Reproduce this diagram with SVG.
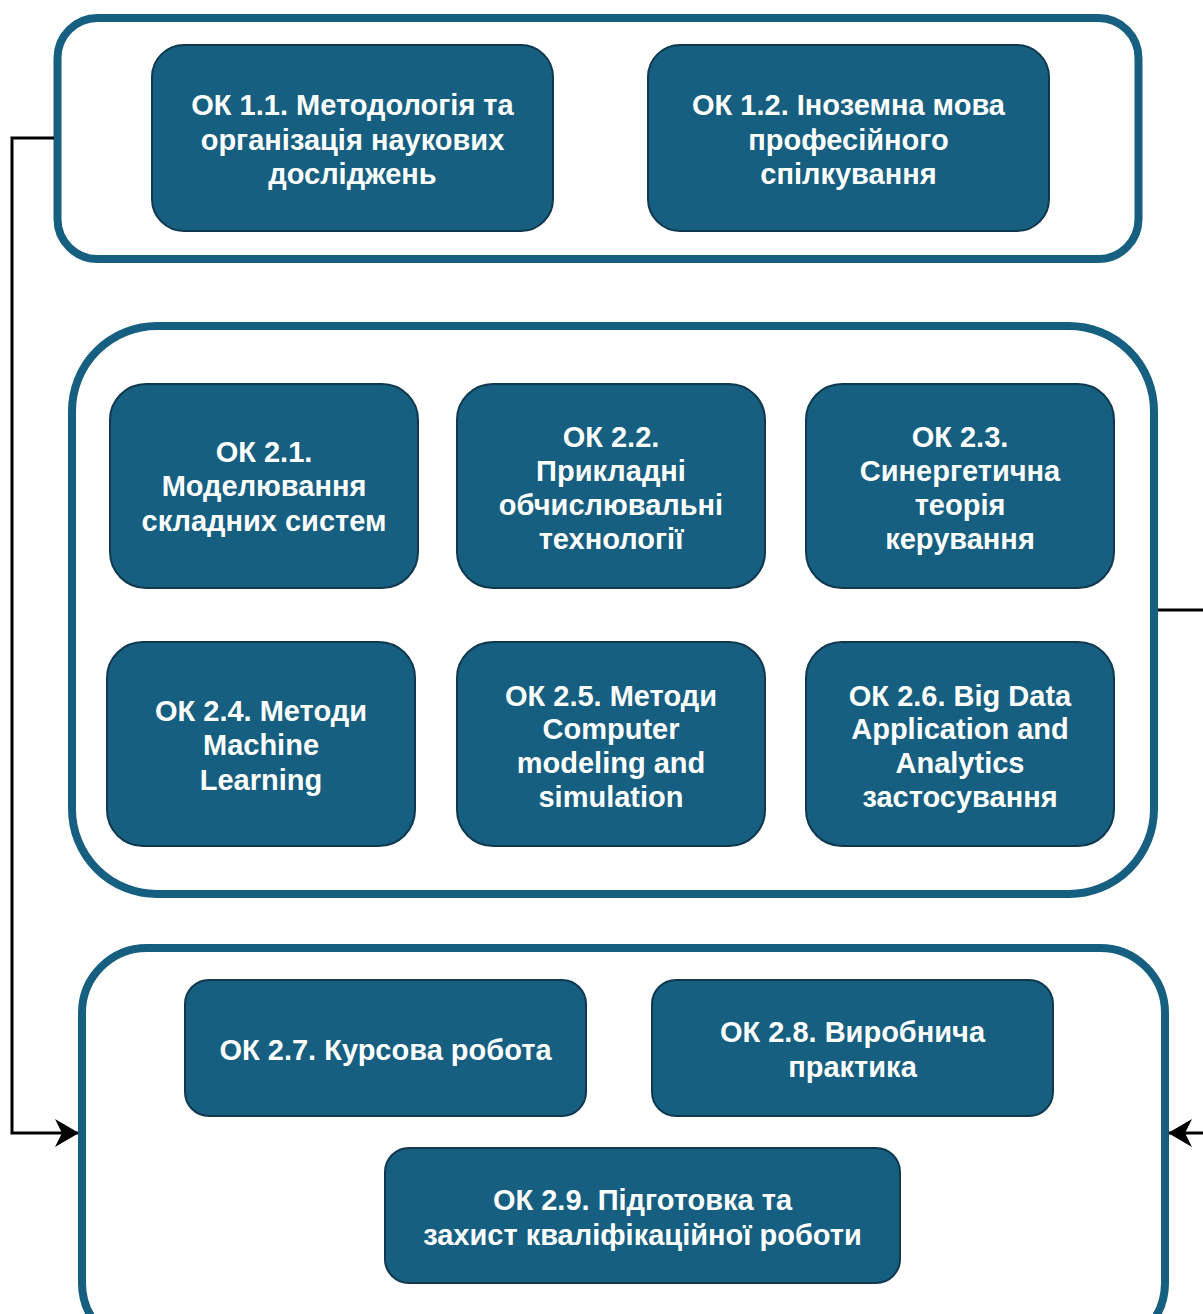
<svg xmlns="http://www.w3.org/2000/svg" width="1203" height="1314" viewBox="0 0 1203 1314">
<style>
.cont{fill:#ffffff;stroke:#175f80;stroke-width:8}
.node{fill:#175f80;stroke:#10384f;stroke-width:2}
.t{fill:#ffffff;font-family:"Liberation Sans",Arial,sans-serif;font-weight:bold;font-size:29px;text-anchor:middle;dominant-baseline:central}
.c{fill:none;stroke:#000000;stroke-width:3}
</style>
<defs>
<marker id="arr" viewBox="0 0 24 28" refX="23" refY="14" markerWidth="24" markerHeight="28" markerUnits="userSpaceOnUse" orient="auto">
<path d="M0,0 L24,14 L0,28 L7,14 Z" fill="#000000"/>
</marker>
</defs>
<rect width="1203" height="1314" fill="#ffffff"/>
<g id="containers">
<rect id="group1" class="cont" x="57.5" y="18" width="1081" height="241" rx="40"/>
<rect id="group2" class="cont" x="72" y="326" width="1082" height="568" rx="85"/>
<rect id="group3" class="cont" x="82" y="948" width="1083" height="400" rx="65"/>
</g>
<g id="connectors">
<path class="c" d="M54,138 H12 V1133 H78" marker-end="url(#arr)"/>
<path class="c" d="M1158,610 H1215 V1133 H1169" marker-end="url(#arr)"/>
</g>
<g id="ok11"><rect class="node" x="152" y="45" width="401" height="186" rx="32"/>
<text class="t" x="352.5" y="105">ОК 1.1. Методологія та</text><text class="t" x="352.5" y="140">організація наукових</text><text class="t" x="352.5" y="174">досліджень</text></g>
<g id="ok12"><rect class="node" x="648" y="45" width="401" height="186" rx="32"/>
<text class="t" x="848.5" y="105">ОК 1.2. Іноземна мова</text><text class="t" x="848.5" y="140">професійного</text><text class="t" x="848.5" y="174">спілкування</text></g>
<g id="ok21"><rect class="node" x="110" y="384" width="308" height="204" rx="36"/>
<text class="t" x="264" y="452">ОК 2.1.</text><text class="t" x="264" y="486">Моделювання</text><text class="t" x="264" y="521">складних систем</text></g>
<g id="ok22"><rect class="node" x="457" y="384" width="308" height="204" rx="36"/>
<text class="t" x="611" y="437">ОК 2.2.</text><text class="t" x="611" y="471">Прикладні</text><text class="t" x="611" y="505">обчислювальні</text><text class="t" x="611" y="539">технології</text></g>
<g id="ok23"><rect class="node" x="806" y="384" width="308" height="204" rx="36"/>
<text class="t" x="960" y="437">ОК 2.3.</text><text class="t" x="960" y="471">Синергетична</text><text class="t" x="960" y="505">теорія</text><text class="t" x="960" y="539">керування</text></g>
<g id="ok24"><rect class="node" x="107" y="642" width="308" height="204" rx="36"/>
<text class="t" x="261" y="711">ОК 2.4. Методи</text><text class="t" x="261" y="745">Machine</text><text class="t" x="261" y="780">Learning</text></g>
<g id="ok25"><rect class="node" x="457" y="642" width="308" height="204" rx="36"/>
<text class="t" x="611" y="696">ОК 2.5. Методи</text><text class="t" x="611" y="729">Computer</text><text class="t" x="611" y="763">modeling and</text><text class="t" x="611" y="797">simulation</text></g>
<g id="ok26"><rect class="node" x="806" y="642" width="308" height="204" rx="36"/>
<text class="t" x="960" y="696">ОК 2.6. Big Data</text><text class="t" x="960" y="729">Application and</text><text class="t" x="960" y="763">Analytics</text><text class="t" x="960" y="797">застосування</text></g>
<g id="ok27"><rect class="node" x="185" y="980" width="401" height="136" rx="24"/>
<text class="t" x="385.5" y="1050">ОК 2.7. Курсова робота</text></g>
<g id="ok28"><rect class="node" x="652" y="980" width="401" height="136" rx="24"/>
<text class="t" x="852.5" y="1032">ОК 2.8. Виробнича</text><text class="t" x="852.5" y="1067">практика</text></g>
<g id="ok29"><rect class="node" x="385" y="1148" width="515" height="135" rx="24"/>
<text class="t" x="642.5" y="1200">ОК 2.9. Підготовка та</text><text class="t" x="642.5" y="1235">захист кваліфікаційної роботи</text></g>
</svg>
